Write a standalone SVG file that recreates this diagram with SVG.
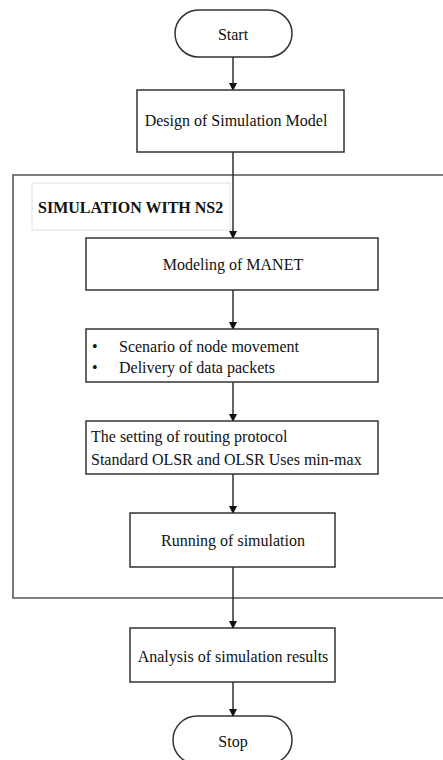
<svg xmlns="http://www.w3.org/2000/svg" width="443" height="760" viewBox="0 0 443 760">
<style>
.box{fill:#fff;stroke:#333;stroke-width:1.5}
.t{font-family:"Liberation Serif","Times New Roman",serif;font-size:16px;fill:#111}
.c{text-anchor:middle;dominant-baseline:central}
.ln{stroke:#222;stroke-width:1.4;fill:none}
</style>
<defs>
<marker id="ah" markerWidth="8" markerHeight="8" refX="7" refY="4" orient="auto" markerUnits="userSpaceOnUse">
<path d="M0,0 L8,4 L0,8 Z" fill="#111"/>
</marker>
</defs>
<rect width="443" height="760" fill="#fff"/>
<g id="container">
<path d="M445,175 H13 V598 H445" fill="none" stroke="#555" stroke-width="1.6"/>
<rect x="32" y="183" width="198" height="47" fill="#fff" stroke="#e2e2e2" stroke-width="1"/>
<text class="t" x="38" y="213" font-weight="bold">SIMULATION WITH NS2</text>
</g>
<g id="connectors">
<line class="ln" x1="233" y1="57" x2="233" y2="90" marker-end="url(#ah)"/>
<line class="ln" x1="233" y1="152" x2="233" y2="238" marker-end="url(#ah)"/>
<line class="ln" x1="233" y1="290" x2="233" y2="329" marker-end="url(#ah)"/>
<line class="ln" x1="233" y1="382" x2="233" y2="421" marker-end="url(#ah)"/>
<line class="ln" x1="233" y1="474" x2="233" y2="513" marker-end="url(#ah)"/>
<line class="ln" x1="233" y1="567" x2="233" y2="628" marker-end="url(#ah)"/>
<line class="ln" x1="233" y1="682" x2="233" y2="716" marker-end="url(#ah)"/>
</g>
<g id="start">
<rect class="box" x="175" y="10" width="117" height="47" rx="23.5"/>
<text class="t c" x="233" y="34">Start</text>
</g>
<g id="design">
<rect class="box" x="137" y="90" width="207" height="62"/>
<text class="t c" x="236" y="120">Design of Simulation Model</text>
</g>
<g id="modeling">
<rect class="box" x="86" y="238" width="292" height="52"/>
<text class="t c" x="233" y="264">Modeling of MANET</text>
</g>
<g id="scenario">
<rect class="box" x="86" y="329" width="292" height="53"/>
<text class="t" x="92" y="352">•</text>
<text class="t" x="119" y="352">Scenario of node movement</text>
<text class="t" x="92" y="373">•</text>
<text class="t" x="119" y="373">Delivery of data packets</text>
</g>
<g id="routing">
<rect class="box" x="86" y="421" width="292" height="53"/>
<text class="t" x="91" y="442">The setting of routing protocol</text>
<text class="t" x="91" y="465">Standard OLSR and OLSR Uses min-max</text>
</g>
<g id="running">
<rect class="box" x="130" y="513" width="205" height="54"/>
<text class="t c" x="233" y="540">Running of simulation</text>
</g>
<g id="analysis">
<rect class="box" x="130" y="628" width="205" height="54"/>
<text class="t c" x="233" y="656">Analysis of simulation results</text>
</g>
<g id="stop">
<rect class="box" x="173" y="716" width="119" height="48" rx="24"/>
<text class="t c" x="233" y="741">Stop</text>
</g>
</svg>
